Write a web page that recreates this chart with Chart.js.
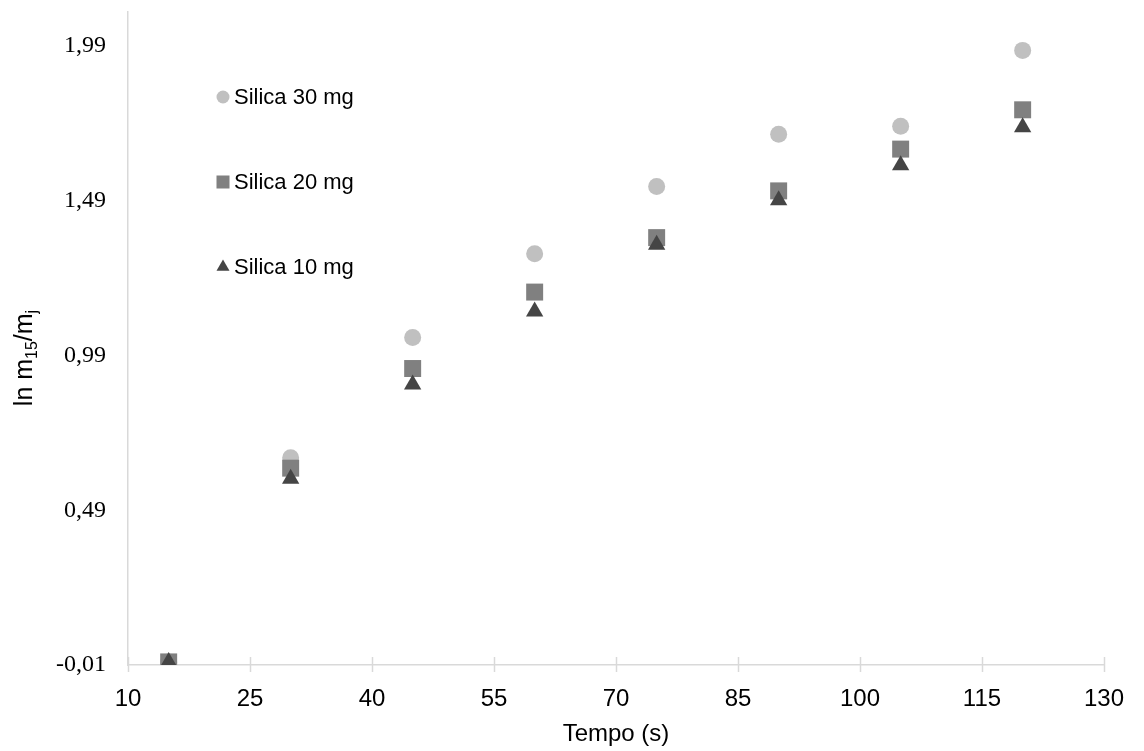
<!DOCTYPE html>
<html>
<head>
<meta charset="utf-8">
<script src="https://cdn.jsdelivr.net/npm/chart.js@4.4.1/dist/chart.umd.min.js"></script>
<style>
  html, body { margin: 0; padding: 0; background: #ffffff; }
  #contenedor { width: 1144px; height: 751px; }
</style>
</head>
<body>
<div id="contenedor"><canvas id="graficoSilica"></canvas></div>
<script>
// Datos: tempo (s) vs ln m15/mj
var tempos = [15, 30, 45, 60, 75, 90, 105, 120];
var silica30 = [0, 0.660, 1.048, 1.319, 1.536, 1.705, 1.731, 1.976];
var silica20 = [0, 0.626, 0.948, 1.195, 1.371, 1.522, 1.657, 1.784];
var silica10 = [0, 0.592, 0.896, 1.132, 1.348, 1.492, 1.605, 1.728];
var ticksX = [10, 25, 40, 55, 70, 85, 100, 115, 130];
var ticksY = [-0.01, 0.49, 0.99, 1.49, 1.99];

var colorEje = "#d9d9d9";

function puntos(valores){
    return tempos.map(function(t, i){ return {x: t, y: valores[i]}; });
}

//Leyenda dentro del area del grafico
var leyendaInterna = {
    id: 'leyendaInterna',
    afterDraw: function(chart){
        var ctx = chart.ctx;
        var items = [
            {ds: 0, y: 97, r: 6.5},
            {ds: 1, y: 182, r: 9.2},
            {ds: 2, y: 267, r: 7.5}
        ];
        ctx.save();
        items.forEach(function(it){
            var ds = chart.data.datasets[it.ds];
            ctx.fillStyle = ds.backgroundColor;
            Chart.helpers.drawPoint(ctx, {pointStyle: ds.pointStyle, radius: it.r, borderWidth: 0, rotation: 0}, 223, it.y);
            ctx.fillStyle = "#000000";
            ctx.font = "22px 'Liberation Sans', Arial, sans-serif";
            ctx.textBaseline = "middle";
            ctx.textAlign = "left";
            ctx.fillText(ds.label, 234, it.y + 1);
        });
        ctx.restore();
    }
};

//Titulo eje Y con subindices y marcas del eje X
var detallesEjes = {
    id: 'detallesEjes',
    afterDraw: function(chart){
        var ctx = chart.ctx;
        var area = chart.chartArea;
        var escalaX = chart.scales.x;

        ctx.save();
        ctx.strokeStyle = colorEje;
        ctx.lineWidth = 1.5;
        ticksX.forEach(function(v){
            var px = Math.round(escalaX.getPixelForValue(v)) + 0.5;
            ctx.beginPath();
            ctx.moveTo(px, area.bottom - 8);
            ctx.lineTo(px, area.bottom + 7);
            ctx.stroke();
        });
        ctx.restore();

        var partes = [
            {t: "ln m", f: 25, dy: 0},
            {t: "15", f: 16, dy: 5},
            {t: "/m", f: 25, dy: 0},
            {t: "j", f: 16, dy: 5}
        ];
        ctx.save();
        ctx.fillStyle = "#000000";
        ctx.textBaseline = "alphabetic";
        ctx.textAlign = "left";
        var total = 0;
        partes.forEach(function(p){
            ctx.font = p.f + "px 'Liberation Sans', Arial, sans-serif";
            total += ctx.measureText(p.t).width;
        });
        ctx.translate(32, 358);
        ctx.rotate(-Math.PI / 2);
        var x = -total / 2;
        partes.forEach(function(p){
            ctx.font = p.f + "px 'Liberation Sans', Arial, sans-serif";
            ctx.fillText(p.t, x, p.dy);
            x += ctx.measureText(p.t).width;
        });
        ctx.restore();
    }
};

var getGrafico = document.getElementById("graficoSilica");
var graficoSilica = new Chart(getGrafico, {
    type: 'scatter',
    plugins: [leyendaInterna, detallesEjes],
    data: {
        datasets: [
            {
                label: "Silica 30 mg",
                data: puntos(silica30),
                pointStyle: 'circle',
                pointRadius: 8.5,
                pointHoverRadius: 8.5,
                pointBorderWidth: 0,
                backgroundColor: "#c0c0c0",
                borderColor: "#c0c0c0",
                order: 3
            },
            {
                label: "Silica 20 mg",
                data: puntos(silica20),
                pointStyle: 'rect',
                pointRadius: 12,
                pointHoverRadius: 12,
                pointBorderWidth: 0,
                backgroundColor: "#808080",
                borderColor: "#808080",
                order: 2
            },
            {
                label: "Silica 10 mg",
                data: puntos(silica10),
                pointStyle: 'triangle',
                pointRadius: 10,
                pointHoverRadius: 10,
                pointBorderWidth: 0,
                backgroundColor: "#454545",
                borderColor: "#454545",
                order: 1
            }
        ]
    },
    options: {
        responsive: true,
        maintainAspectRatio: false,
        animation: false,
        layout: {
            padding: {top: 12, right: 39, left: 0, bottom: 0}
        },
        scales: {
            x: {
                type: 'linear',
                min: 10,
                max: 130,
                afterBuildTicks: function(axis){
                    axis.ticks = ticksX.map(function(v){ return {value: v}; });
                },
                afterFit: function(axis){ axis.height = 86; },
                grid: { display: false, drawTicks: false },
                border: { display: true, color: colorEje, width: 1.5 },
                ticks: {
                    color: "#000000",
                    padding: 20,
                    font: { family: "'Liberation Sans', Arial, sans-serif", size: 24 }
                },
                title: {
                    display: true,
                    text: "Tempo (s)",
                    color: "#000000",
                    padding: {top: 2, bottom: 2},
                    font: { family: "'Liberation Sans', Arial, sans-serif", size: 24 }
                }
            },
            y: {
                type: 'linear',
                min: -0.01,
                max: 2.1,
                afterBuildTicks: function(axis){
                    axis.ticks = ticksY.map(function(v){ return {value: v}; });
                },
                afterFit: function(axis){
                    axis.width = 128;
                    axis.paddingTop = 0;
                    axis.paddingBottom = 0;
                },
                grid: { display: false, drawTicks: false },
                border: { display: true, color: colorEje, width: 1.5 },
                ticks: {
                    color: "#000000",
                    padding: 22,
                    font: { family: "'Liberation Serif', 'Times New Roman', serif", size: 24 },
                    callback: function(valor){
                        return valor.toFixed(2).replace(".", ",");
                    }
                }
            }
        },
        plugins: {
            legend: { display: false },
            tooltip: { enabled: false }
        }
    }
});
</script>
</body>
</html>
